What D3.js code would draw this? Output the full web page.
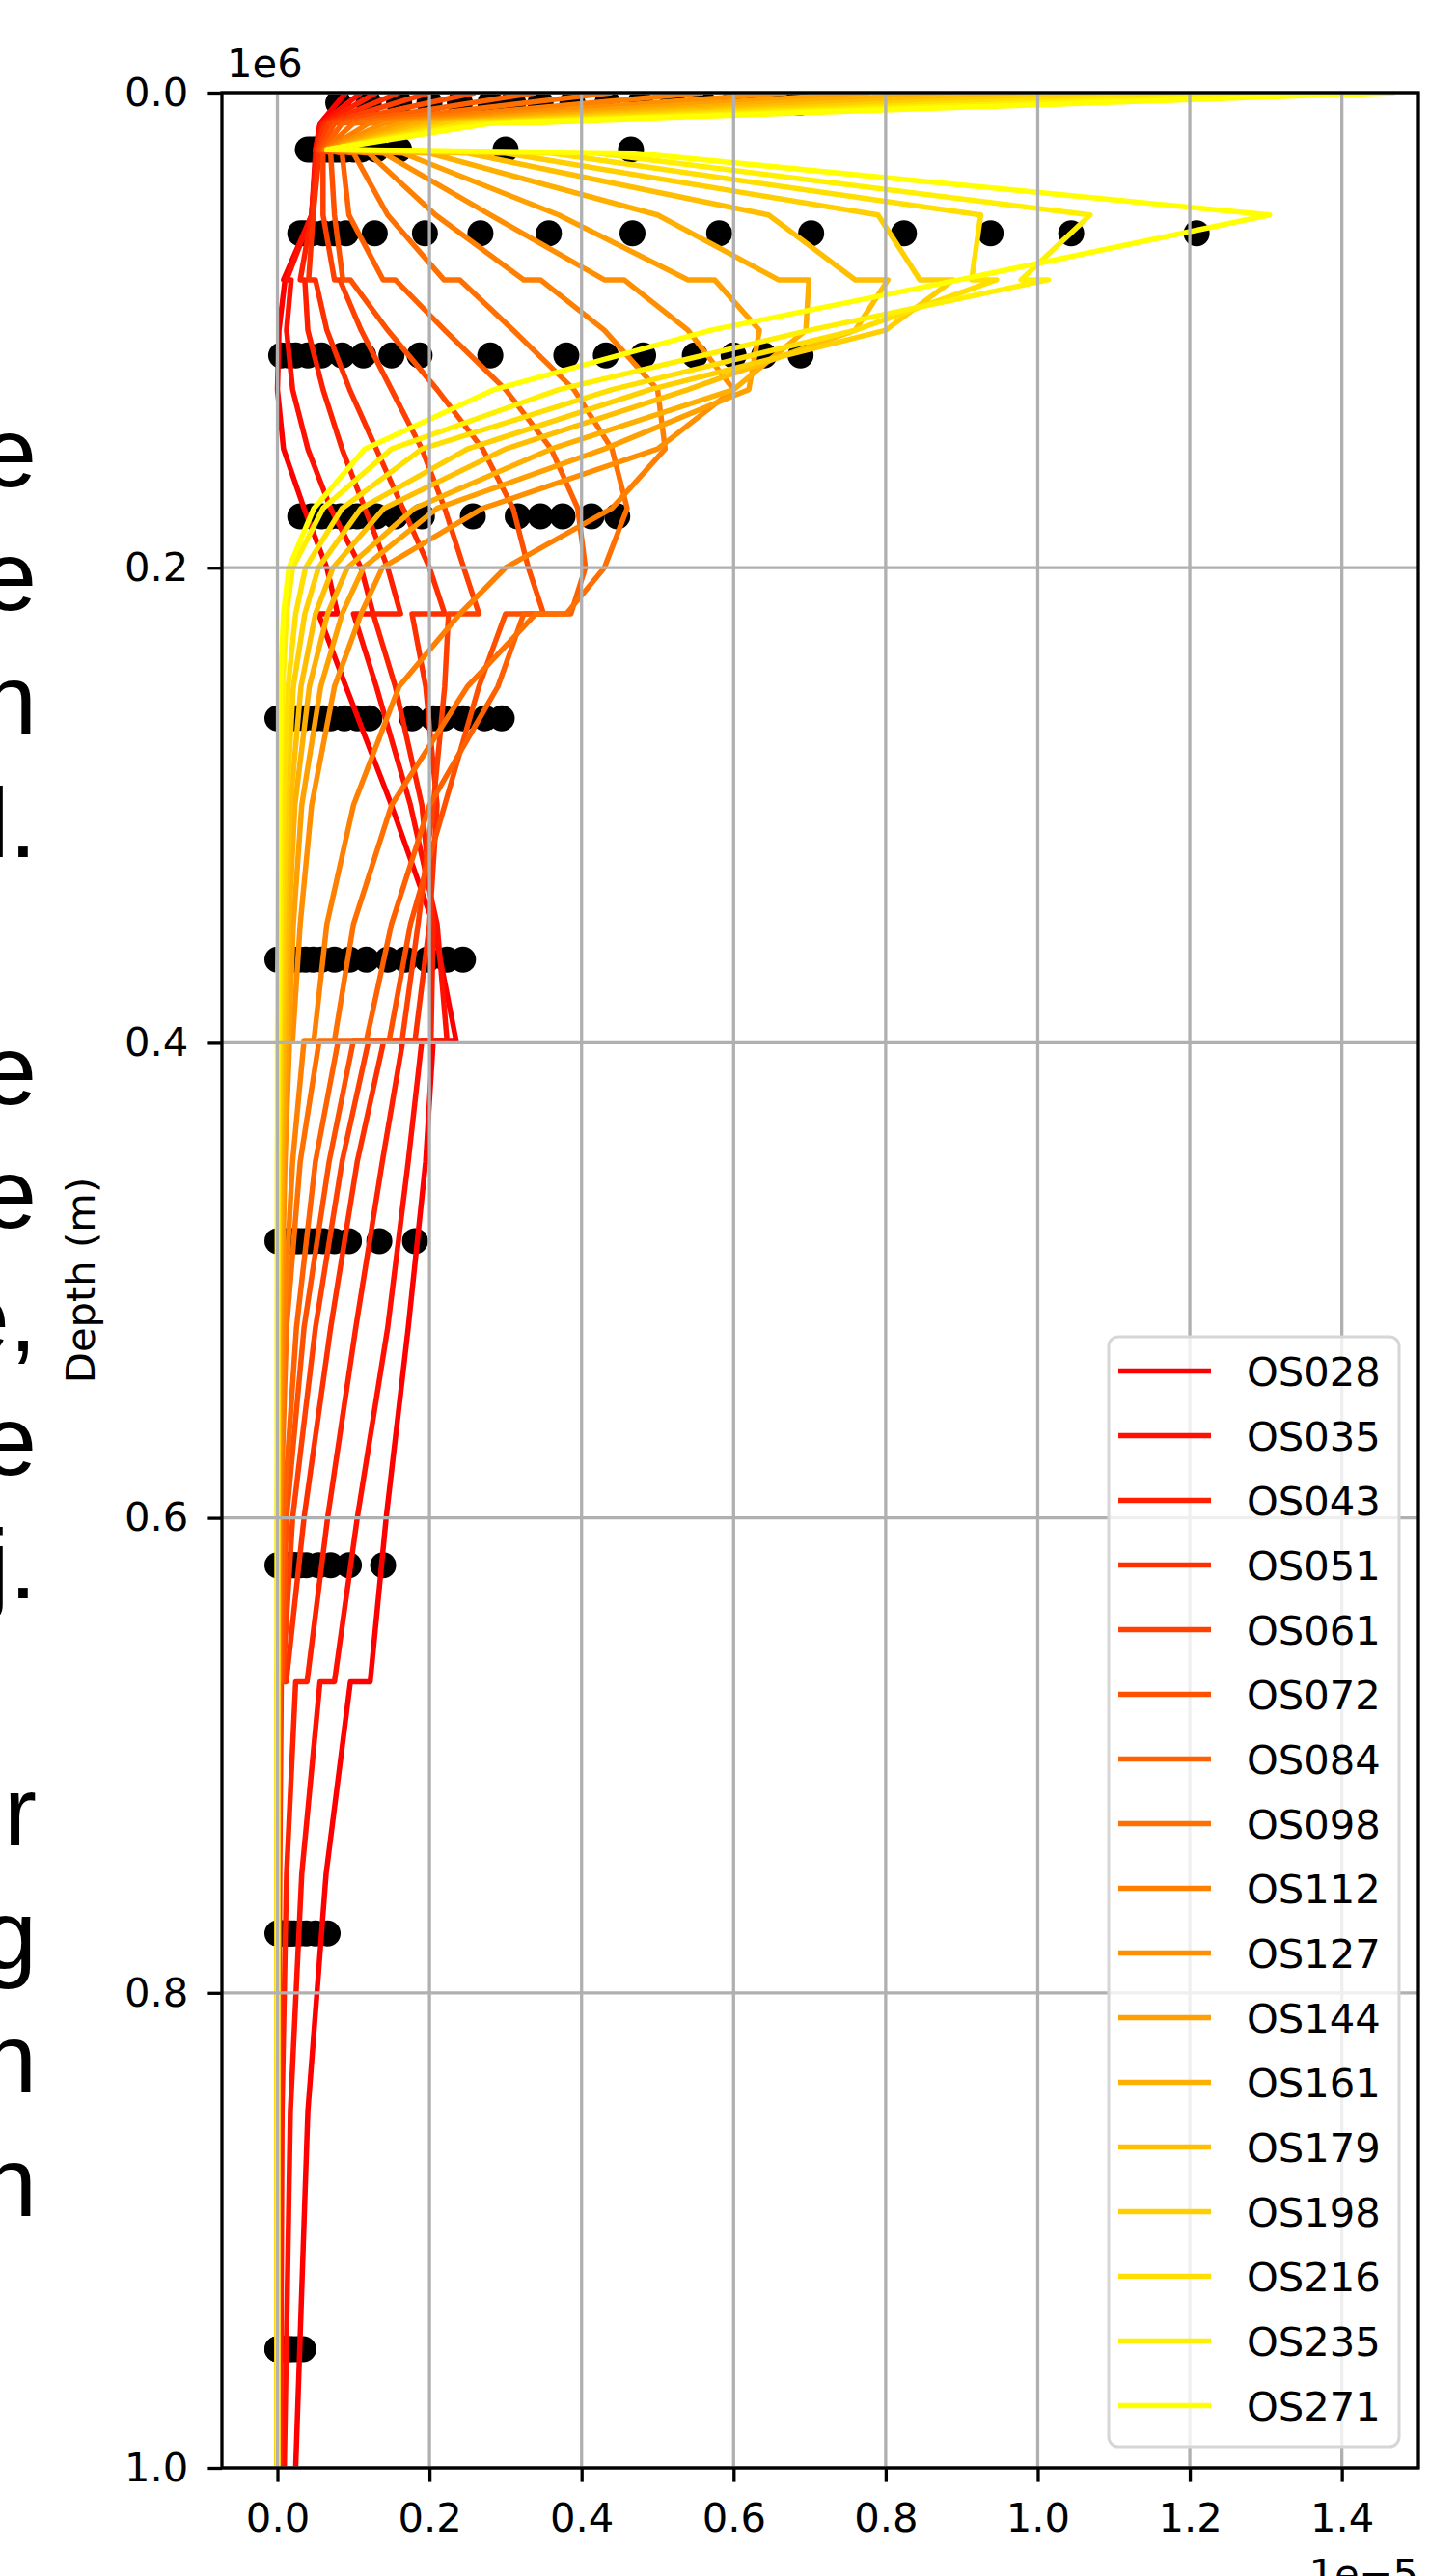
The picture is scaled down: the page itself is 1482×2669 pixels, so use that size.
<!DOCTYPE html>
<html lang="en">
<head>
<meta charset="UTF-8">
<title>Depth profiles</title>
<style>
    body { margin: 0; background: #fff; }
    svg { display: block; }
</style>
</head>
<body>
<script src="https://d3js.org/d3.v7.min.js"></script>
<script>
    // ---- data (x in units of 1e-5, depth in units of 1e6 m) ----
    let seriesNames = ["OS028","OS035","OS043","OS051","OS061","OS072","OS084","OS098","OS112",
                       "OS127","OS144","OS161","OS179","OS198","OS216","OS235","OS271"];

    // depths at which every modelled profile is sampled (repeated depth = layer step)
    let depthGrid = [0, 0.013, 0.024, 0.0255, 0.0515, 0.0788, 0.0788, 0.1, 0.125, 0.15, 0.175, 0.2,
                     0.2194, 0.2194, 0.25, 0.3, 0.35, 0.399, 0.399, 0.45, 0.52, 0.6,
                     0.669, 0.669, 0.75, 0.85, 1.0];

    let os028 = [0.09, 0.056, 0.05, 0.05, 0.045, 0.008, 0.010, 0.002, 0.0, 0.008, 0.035, 0.065, 0.079, 0.054, 0.09, 0.15, 0.205, 0.235, 0.205, 0.195, 0.172, 0.143, 0.122, 0.096, 0.064, 0.04, 0.024];
    let os035 = [0.11, 0.058, 0.05, 0.051, 0.045, 0.012, 0.018, 0.012, 0.02, 0.04, 0.07, 0.11, 0.126, 0.1, 0.13, 0.175, 0.21, 0.223, 0.19, 0.172, 0.145, 0.105, 0.075, 0.056, 0.032, 0.017, 0.009];
    let os043 = [0.13, 0.06, 0.051, 0.052, 0.045, 0.03, 0.036, 0.04, 0.06, 0.085, 0.115, 0.145, 0.162, 0.126, 0.155, 0.19, 0.205, 0.202, 0.165, 0.138, 0.103, 0.066, 0.039, 0.024, 0.012, 0.006, 0.004];
    let os051 = [0.16, 0.063, 0.052, 0.055, 0.047, 0.041, 0.05, 0.065, 0.095, 0.13, 0.165, 0.2, 0.22, 0.177, 0.195, 0.21, 0.2, 0.181, 0.14, 0.105, 0.07, 0.035, 0.0116, 0.005, 0.003, 0.002, 0.001];
    let os061 = [0.2, 0.068, 0.054, 0.06, 0.06, 0.075, 0.082, 0.11, 0.15, 0.19, 0.22, 0.245, 0.265, 0.225, 0.22, 0.205, 0.185, 0.164, 0.12, 0.085, 0.05, 0.02, 0.007, 0.004, 0.002, 0.001, 0.0];
    let os072 = [0.26, 0.075, 0.057, 0.07, 0.075, 0.086, 0.096, 0.145, 0.21, 0.27, 0.31, 0.33, 0.35, 0.3, 0.265, 0.22, 0.175, 0.147, 0.1, 0.068, 0.035, 0.012, 0.005, 0.003, 0.001, 0.0, 0.0];
    let os084 = [0.34, 0.085, 0.06, 0.085, 0.094, 0.139, 0.155, 0.22, 0.3, 0.36, 0.395, 0.405, 0.386, 0.324, 0.29, 0.2, 0.15, 0.117, 0.08, 0.05, 0.025, 0.008, 0.003, 0.002, 0.001, 0.0, 0.0];
    let os098 = [0.44, 0.1, 0.062, 0.1, 0.145, 0.219, 0.24, 0.31, 0.39, 0.44, 0.46, 0.43, 0.38, 0.34, 0.25, 0.15, 0.1, 0.075, 0.055, 0.03, 0.012, 0.004, 0.002, 0.001, 0.0, 0.0, 0.0];
    let os112 = [0.56, 0.12, 0.064, 0.12, 0.208, 0.324, 0.346, 0.43, 0.5, 0.51, 0.44, 0.3, 0.24, 0.24, 0.16, 0.1, 0.065, 0.048, 0.035, 0.02, 0.008, 0.003, 0.001, 0.0, 0.0, 0.0, 0.0];
    let os127 = [0.67, 0.14, 0.066, 0.14, 0.28, 0.43, 0.456, 0.54, 0.6, 0.5, 0.27, 0.138, 0.11, 0.11, 0.075, 0.045, 0.03, 0.02, 0.016, 0.01, 0.005, 0.002, 0.001, 0.001, 0.0, 0.0, 0.0];
    let os144 = [0.78, 0.16, 0.068, 0.165, 0.37, 0.54, 0.575, 0.634, 0.62, 0.43, 0.21, 0.113, 0.085, 0.085, 0.057, 0.032, 0.021, 0.015, 0.012, 0.007, 0.003, 0.001, 0.0, 0.0, 0.0, 0.0, 0.0];
    let os161 = [0.89, 0.18, 0.07, 0.2, 0.5, 0.659, 0.699, 0.695, 0.6, 0.36, 0.18, 0.092, 0.066, 0.066, 0.042, 0.023, 0.015, 0.011, 0.009, 0.005, 0.002, 0.001, 0.0, 0.0, 0.0, 0.0, 0.0];
    let os179 = [1.0, 0.2, 0.07, 0.25, 0.646, 0.76, 0.803, 0.76, 0.54, 0.3, 0.14, 0.073, 0.05, 0.05, 0.031, 0.017, 0.011, 0.008, 0.006, 0.003, 0.001, 0.0, 0.0, 0.0, 0.0, 0.0, 0.0];
    let os198 = [1.12, 0.22, 0.07, 0.3, 0.79, 0.845, 0.889, 0.8, 0.49, 0.25, 0.11, 0.054, 0.036, 0.036, 0.021, 0.012, 0.008, 0.005, 0.004, 0.002, 0.001, 0.0, 0.0, 0.0, 0.0, 0.0, 0.0];
    let os216 = [1.24, 0.24, 0.068, 0.36, 0.925, 0.913, 0.946, 0.76, 0.44, 0.19, 0.085, 0.037, 0.024, 0.024, 0.014, 0.008, 0.005, 0.003, 0.002, 0.001, 0.0, 0.0, 0.0, 0.0, 0.0, 0.0, 0.0];
    let os235 = [1.36, 0.26, 0.066, 0.42, 1.069, 0.978, 1.014, 0.7, 0.37, 0.15, 0.06, 0.02, 0.012, 0.012, 0.007, 0.004, 0.003, 0.002, 0.001, 0.0, 0.0, 0.0, 0.0, 0.0, 0.0, 0.0, 0.0];
    let os271 = [1.47, 0.28, 0.065, 0.47, 1.305, 0.897, 0.897, 0.57, 0.285, 0.115, 0.048, 0.015, 0.008, 0.008, 0.004, 0.002, 0.001, 0.0, 0.0, 0.0, 0.0, 0.0, 0.0, 0.0, 0.0, 0.0, 0.0];
    let profiles = [os028, os035, os043, os051, os061, os072, os084, os098, os112,
                    os127, os144, os161, os179, os198, os216, os235, os271];

    // measured points (black dots), one row per sampling depth
    let obsDepths = [0.0043, 0.024, 0.0592, 0.1106, 0.1784, 0.2634, 0.365, 0.4835, 0.62, 0.775, 0.95];
    let obsA = [0.08, 0.12, 0.16, 0.2, 0.24, 0.28, 0.31, 0.346, 0.388, 0.434, 0.477, 0.52, 0.56, 0.6, 0.632, 0.66, 0.686];
    let obsB = [0.04, 0.045, 0.05, 0.055, 0.06, 0.065, 0.07, 0.075, 0.08, 0.085, 0.09, 0.1, 0.11, 0.13, 0.16, 0.3, 0.465];
    let obsC = [0.03, 0.036, 0.045, 0.06, 0.075, 0.09, 0.128, 0.194, 0.267, 0.357, 0.467, 0.581, 0.702, 0.824, 0.938, 1.044, 1.209];
    let obsD = [0.005, 0.015, 0.024, 0.04, 0.058, 0.085, 0.113, 0.15, 0.187, 0.28, 0.38, 0.432, 0.481, 0.549, 0.6, 0.64, 0.688];
    let obsE = [0.03, 0.045, 0.058, 0.07, 0.083, 0.095, 0.105, 0.118, 0.13, 0.155, 0.19, 0.257, 0.316, 0.346, 0.375, 0.413, 0.447];
    let obsF = [0.0, 0.008, 0.015, 0.024, 0.035, 0.05, 0.06, 0.07, 0.088, 0.105, 0.121, 0.177, 0.205, 0.219, 0.244, 0.273, 0.295];
    let obsG = [0.0, 0.005, 0.01, 0.015, 0.02, 0.028, 0.037, 0.047, 0.058, 0.075, 0.095, 0.117, 0.145, 0.168, 0.197, 0.223, 0.244];
    let obsH = [0.0, 0.003, 0.006, 0.009, 0.012, 0.016, 0.02, 0.025, 0.029, 0.035, 0.042, 0.05, 0.06, 0.075, 0.094, 0.134, 0.181];
    let obsI = [0.0, 0.002, 0.004, 0.006, 0.008, 0.01, 0.012, 0.015, 0.018, 0.021, 0.024, 0.03, 0.038, 0.054, 0.07, 0.094, 0.139];
    let obsJ = [0.0, 0.001, 0.002, 0.003, 0.004, 0.005, 0.006, 0.008, 0.01, 0.012, 0.015, 0.018, 0.022, 0.029, 0.038, 0.05, 0.066];
    let obsK = [0.0, 0.0, 0.001, 0.001, 0.002, 0.002, 0.003, 0.004, 0.005, 0.006, 0.008, 0.01, 0.012, 0.016, 0.02, 0.026, 0.034];
    let obsRows = [obsA, obsB, obsC, obsD, obsE, obsF, obsG, obsH, obsI, obsJ, obsK];

    let xTicks = [0, 0.2, 0.4, 0.6, 0.8, 1.0, 1.2, 1.4];
    let yTicks = [0, 0.2, 0.4, 0.6, 0.8, 1.0];

    // ends of the page text that the figure was cut from (left edge)
    let edgeText = ["e", "e", "n", "l.", "e", "e", "e,", "e", "j.", "r", "g", "n", "n"];
    let edgeLine = [0, 1, 2, 3, 5, 6, 7, 8, 9, 11, 12, 13, 14];

    // ---- layout ----
    let width = 1482;
    let height = 2669;
    let plot = {left: 230, right: 1470, top: 96, bottom: 2557};
    let font = "'DejaVu Sans', sans-serif";
    let fs = 41.7;

    let svg = d3.select("body").append("svg")
        .attr("width", width)
        .attr("height", height)
        .style("background", "#fff");

    let x = d3.scaleLinear().domain([-0.073, 1.5007]).range([plot.left, plot.right]);
    let y = d3.scaleLinear().domain([0, 1]).range([plot.top, plot.bottom]);
    let color = d3.interpolateRgb("#ff0000", "#ffff00");

    svg.append("defs").append("clipPath").attr("id", "clip")
        .append("rect")
        .attr("x", plot.left).attr("y", plot.top)
        .attr("width", plot.right - plot.left)
        .attr("height", plot.bottom - plot.top);

    // left-edge text fragments
    svg.append("g").selectAll("text")
        .data(edgeText)
        .enter()
        .append("text")
        .attr("x", 38)
        .attr("y", (d, i) => 504 + edgeLine[i] * 128)
        .attr("text-anchor", "end")
        .attr("font-family", "'Liberation Sans', Arial, sans-serif")
        .attr("font-size", 102)
        .attr("fill", "#000")
        .text(d => d);

    let area = svg.append("g").attr("clip-path", "url(#clip)");

    // observations first, matplotlib puts collections under grid and lines
    obsRows.forEach((row, r) => {
        area.append("g").selectAll("circle")
            .data(row)
            .enter()
            .append("circle")
            .attr("cx", d => x(d))
            .attr("cy", y(obsDepths[r]))
            .attr("r", 13.5)
            .attr("fill", "#000");
    });

    // grid
    let grid = svg.append("g");
    grid.selectAll(".gx")
        .data(xTicks)
        .enter()
        .append("line")
        .attr("x1", d => x(d)).attr("x2", d => x(d))
        .attr("y1", plot.top).attr("y2", plot.bottom)
        .attr("stroke", "#b0b0b0")
        .attr("stroke-width", 3.3);
    grid.selectAll(".gy")
        .data(yTicks)
        .enter()
        .append("line")
        .attr("x1", plot.left).attr("x2", plot.right)
        .attr("y1", d => y(d)).attr("y2", d => y(d))
        .attr("stroke", "#b0b0b0")
        .attr("stroke-width", 3.3);

    // profiles
    let line = d3.line()
        .x(d => x(d[1]))
        .y(d => y(d[0]));
    profiles.forEach((vals, i) => {
        let pts = depthGrid.map((dep, k) => [dep, vals[k]]);
        area.append("path")
            .datum(pts)
            .attr("d", line)
            .attr("fill", "none")
            .attr("stroke", color(i / (profiles.length - 1)))
            .attr("stroke-width", 5.5)
            .attr("stroke-linejoin", "round");
    });

    // axes
    let xAxis = d3.axisBottom(x)
        .tickValues(xTicks)
        .tickFormat(d3.format(".1f"))
        .tickSize(14.6)
        .tickPadding(22);
    let gx = svg.append("g")
        .attr("transform", "translate(0," + plot.bottom + ")")
        .call(xAxis);

    let yAxis = d3.axisLeft(y)
        .tickValues(yTicks)
        .tickFormat(d3.format(".1f"))
        .tickSize(14.6)
        .tickPadding(20);
    let gy = svg.append("g")
        .attr("transform", "translate(" + plot.left + ",0)")
        .call(yAxis);

    [gx, gy].forEach(g => {
        g.select(".domain").remove();
        g.selectAll(".tick line").attr("stroke", "#000").attr("stroke-width", 3.3);
        g.selectAll(".tick text")
            .attr("font-family", font)
            .attr("font-size", fs)
            .attr("fill", "#000");
    });

    // spines
    svg.append("rect")
        .attr("x", plot.left).attr("y", plot.top)
        .attr("width", plot.right - plot.left)
        .attr("height", plot.bottom - plot.top)
        .attr("fill", "none")
        .attr("stroke", "#000")
        .attr("stroke-width", 3.3);

    // offset texts and axis label
    svg.append("text")
        .attr("x", 235).attr("y", 80)
        .attr("font-family", font).attr("font-size", fs)
        .text("1e6");
    svg.append("text")
        .attr("x", plot.right).attr("y", 2681)
        .attr("text-anchor", "end")
        .attr("font-family", font).attr("font-size", fs)
        .text("1e\u22125");
    svg.append("text")
        .attr("transform", "translate(98," + ((plot.top + plot.bottom) / 2) + ") rotate(-90)")
        .attr("text-anchor", "middle")
        .attr("font-family", font).attr("font-size", fs)
        .text("Depth (m)");

    // legend
    let lg = {x: 1149, y: 1385, w: 301, h: 1150, row: 67};
    let legend = svg.append("g");
    legend.append("rect")
        .attr("x", lg.x).attr("y", lg.y)
        .attr("width", lg.w).attr("height", lg.h)
        .attr("rx", 10)
        .attr("fill", "#fff").attr("fill-opacity", 0.8)
        .attr("stroke", "#d6d6d6").attr("stroke-width", 3);
    let items = legend.selectAll(".item")
        .data(seriesNames)
        .enter()
        .append("g")
        .attr("transform", (d, i) => "translate(0," + (lg.y + 35.6 + i * lg.row) + ")");
    items.append("line")
        .attr("x1", 1159).attr("x2", 1255)
        .attr("stroke", (d, i) => color(i / (seriesNames.length - 1)))
        .attr("stroke-width", 5.5);
    items.append("text")
        .attr("x", 1292).attr("y", 15)
        .attr("font-family", font).attr("font-size", fs)
        .attr("fill", "#000")
        .text(d => d);
</script>
</body>
</html>
